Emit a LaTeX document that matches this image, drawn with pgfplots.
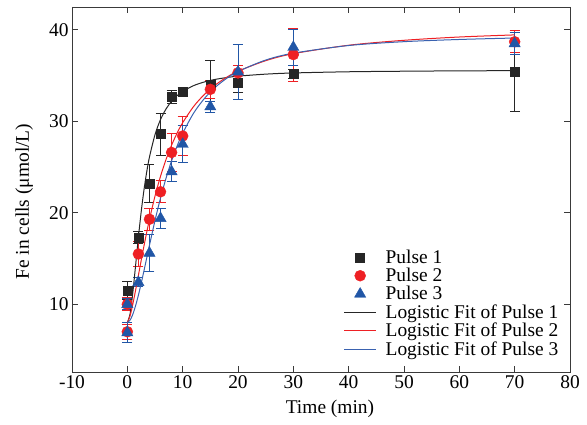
\documentclass[border=0pt]{standalone}
\usepackage{fontspec}
\setmainfont{Liberation Serif}
\usepackage{pgfplots}
\pgfplotsset{compat=1.18}
\definecolor{pblack}{HTML}{262626}
\definecolor{pred}{HTML}{EE2024}
\definecolor{pblue}{HTML}{2156A6}
\definecolor{fblue}{HTML}{3A62B0}
\definecolor{axgray}{HTML}{3A3A3A}
\pgfplotsset{
  mleg/.style={legend image code/.code={\draw[mark repeat=2,mark phase=2,##1] plot coordinates {(0bp,0bp) (16bp,0bp) (32bp,0bp)};}},
}
\begin{document}
\begin{tikzpicture}
\useasboundingbox (-72bp,-53bp) rectangle (515bp,372bp);
\begin{axis}[
  scale only axis, width=498bp, height=365bp,
  xmin=-10, xmax=80, ymin=2.6, ymax=42.5,
  xtick={-10,0,...,80}, ytick={10,20,30,40},
  tick align=inside, major tick length=6bp,
  xtick pos=both, ytick pos=both,
  axis line style={axgray, line width=0.9bp},
  every tick/.style={axgray, line width=0.9bp},
  tick label style={font=\fontsize{19.5}{22}\selectfont},
  label style={font=\fontsize{19.5}{22}\selectfont},
  /pgf/number format/assume math mode=true,
  xlabel={Time (min)}, ylabel={Fe in cells (μmol/L)},
  xlabel style={at={(axis description cs:0.518,-0.1)}, anchor=center},
  ylabel style={at={(axis description cs:-0.096,0.467)}, anchor=center},
  legend style={at={(0.987,0.03)}, anchor=south east, draw=none, fill=none,
    row sep=-0.7bp, font=\fontsize{19.5}{22}\selectfont,
    /tikz/every odd column/.append style={column sep=7bp}},
  legend cell align=left,
  mleg,
  error bars/error bar style={line width=0.9bp},
  error bars/error mark options={rotate=90, mark size=5bp, line width=0.9bp},
]
% measured points
\addplot[color=pblack, only marks, mleg, mark=square*, mark size=4.5bp, mark options={fill=pblack},
  error bars/.cd, y dir=both, y explicit] coordinates {
  (0,11.5) +- (0,1.0)
  (2,17.3) +- (0,0.7)
  (4,23.2) +- (0,2.1)
  (6,28.6) +- (0,2.3)
  (8,32.7) +- (0,0.7)
  (10,33.2) +- (0,0.5)
  (15,34.0) +- (0,2.7)
  (20,34.2) +- (0,1.0)
  (30,35.2) +- (0,0.5)
  (70,35.4) +- (0,4.3)
};
\addlegendentry{Pulse 1}
\addplot[color=pred, only marks, mleg, mark=*, mark size=5.5bp, mark options={fill=pred},
  error bars/.cd, y dir=both, y explicit] coordinates {
  (0,7.0) +- (0,0.8)
  (0,10.0) +- (0,0.7)
  (2,15.5) +- (0,1.4)
  (4,19.3) +- (0,1.2)
  (6,22.3) +- (0,1.2)
  (8,26.6) +- (0,2.1)
  (10,28.4) +- (0,2.1)
  (15,33.5) +- (0,1.0)
  (20,35.3) +- (0,0.8)
  (30,37.3) +- (0,2.9)
  (70,38.7) +- (0,1.2)
};
\addlegendentry{Pulse 2}
\addplot[color=pblue, only marks, mleg, mark=triangle*, mark size=6.5bp, mark options={fill=pblue},
  error bars/.cd, y dir=both, y explicit] coordinates {
  (0,6.9) +- (0,1.1)
  (0,10.0) +- (0,0.6)
  (2,12.4) +- (0,0.5)
  (4,15.6) +- (0,2.0)
  (6,19.4) +- (0,1.1)
  (8,24.5) +- (0,1.1)
  (10,27.5) +- (0,2.0)
  (15,31.6) +- (0,0.6)
  (20,35.4) +- (0,3.0)
  (30,38.1) +- (0,2.0)
  (70,38.5) +- (0,1.2)
};
\addlegendentry{Pulse 3}
% fitted curves
\addplot[pblack, line width=1bp, smooth] coordinates {
  (0,8.0) (0.5,8.97) (1,11.32) (1.5,14.29) (2,17.33) (2.5,20.09) (3,22.47) (3.5,24.46)
  (4,26.10) (5,28.54) (6,30.20) (7,31.36) (8,32.20) (9,32.81) (10,33.27) (12,33.91)
  (14,34.32) (16,34.60) (18,34.79) (20,34.94) (25,35.16) (30,35.29) (40,35.42)
  (50,35.48) (60,35.52) (70,35.54)
};
\addlegendentry{Logistic Fit of Pulse 1}
\addplot[pred, line width=1bp, smooth] coordinates {
  (0,8.0) (0.5,8.75) (1,10.04) (1.5,11.56) (2,13.16) (2.5,14.78) (3,16.36) (3.5,17.86)
  (4,19.28) (5,21.83) (6,24.0) (7,25.84) (8,27.40) (9,28.72) (10,29.85) (12,31.64)
  (14,32.99) (16,34.02) (18,34.84) (20,35.48) (25,36.63) (30,37.40) (40,38.32)
  (50,38.86) (60,39.22) (70,39.45)
};
\addlegendentry{Logistic Fit of Pulse 2}
\addplot[fblue, line width=1bp, smooth] coordinates {
  (0,8.0) (0.5,8.27) (1,8.92) (1.5,9.86) (2,11.0) (2.5,12.28) (3,13.65) (3.5,15.05)
  (4,16.45) (5,19.16) (6,21.62) (7,23.8) (8,25.69) (9,27.31) (10,28.70) (12,30.92)
  (14,32.55) (16,33.78) (18,34.72) (20,35.45) (25,36.70) (30,37.45) (40,38.29)
  (50,38.71) (60,38.95) (70,39.11)
};
\addlegendentry{Logistic Fit of Pulse 3}
\end{axis}
\end{tikzpicture}
\end{document}
